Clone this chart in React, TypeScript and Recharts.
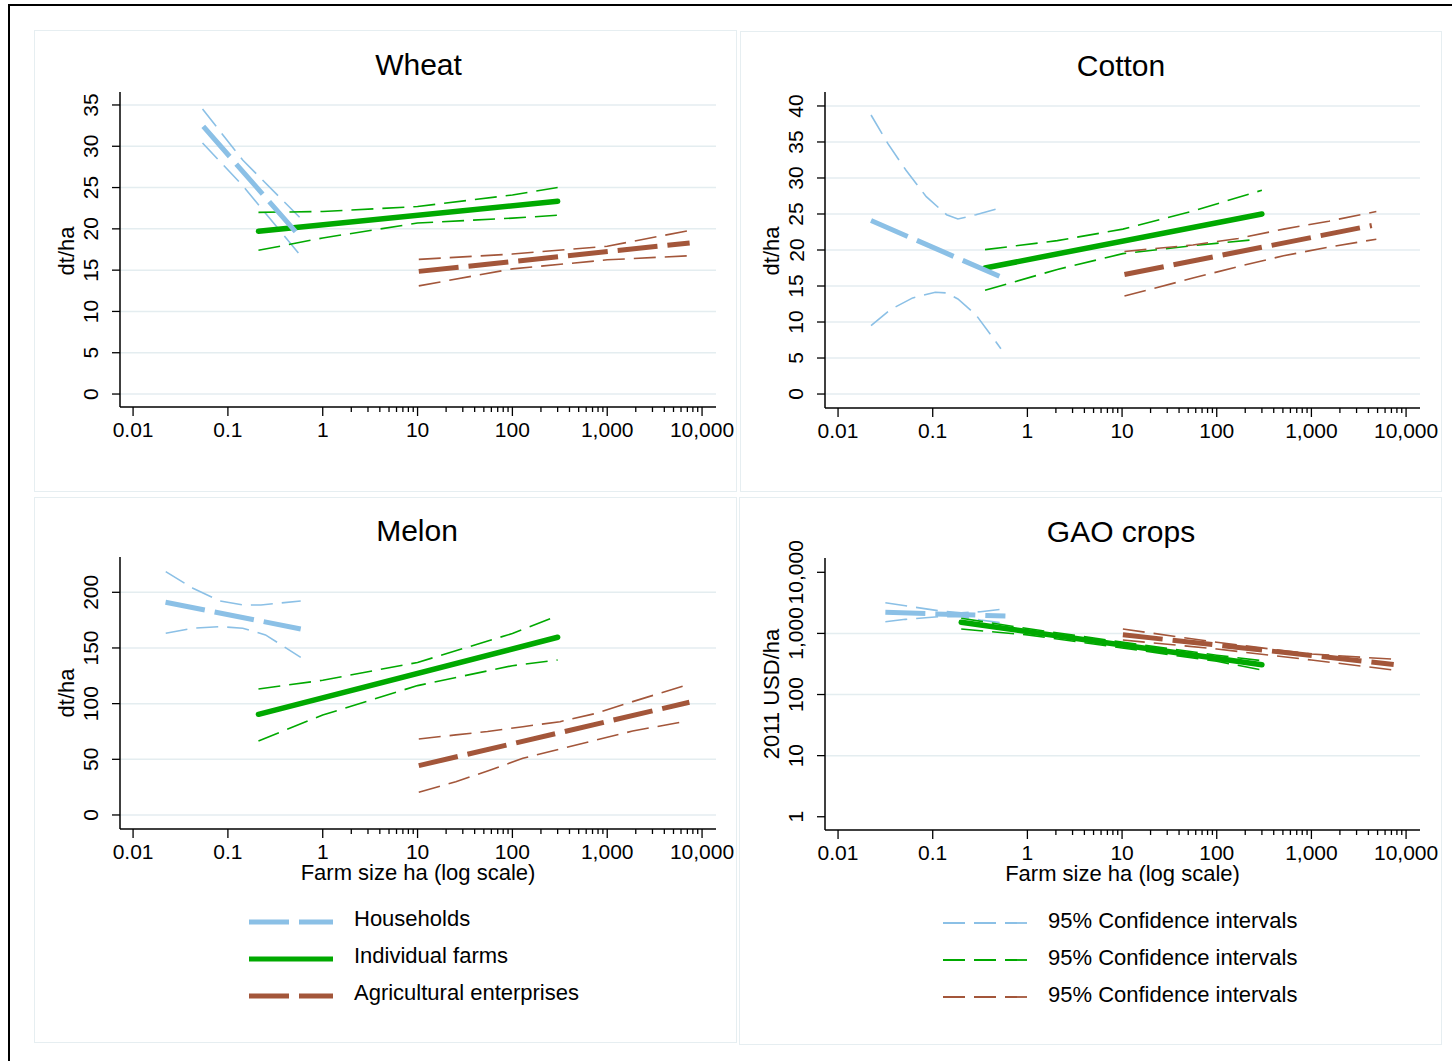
import React from "react";
import { CartesianGrid, Line, LineChart, XAxis, YAxis } from "recharts";

type Pt = [number, number];

// ---- values: [farm size ha, value] ----
// Wheat (dt/ha)
const wheatHouseholds: Pt[] = [[0.055, 32.4], [0.57, 19.1]];
const wheatHouseholdsHi: Pt[] = [[0.054, 34.5], [0.144, 28.3], [0.57, 21.4]];
const wheatHouseholdsLo: Pt[] = [[0.054, 30.4], [0.144, 25.2], [0.57, 16.9]];
const wheatFarms: Pt[] = [[0.21, 19.7], [300, 23.35]];
const wheatFarmsHi: Pt[] = [[0.21, 22.0], [1, 22.1], [10, 22.7], [100, 24.1], [300, 25.0]];
const wheatFarmsLo: Pt[] = [[0.21, 17.4], [1, 18.9], [10, 20.7], [100, 21.3], [300, 21.65]];
const wheatEnterprises: Pt[] = [[10.3, 14.85], [7400, 18.3]];
const wheatEnterprisesHi: Pt[] = [[10.3, 16.3], [100, 16.95], [1000, 17.9], [7400, 19.8]];
const wheatEnterprisesLo: Pt[] = [[10.3, 13.1], [100, 15.15], [1000, 16.25], [7400, 16.75]];

// Cotton (dt/ha)
const cottonHouseholds: Pt[] = [[0.0223, 24.1], [0.525, 16.26]];
const cottonHouseholdsHi: Pt[] = [[0.0223, 38.75], [0.0335, 34.8], [0.052, 31.1], [0.0855, 27.4], [0.14, 24.9], [0.1845, 24.3], [0.286, 24.9], [0.5, 25.8]];
const cottonHouseholdsLo: Pt[] = [[0.0223, 9.5], [0.0355, 11.7], [0.0614, 13.35], [0.1064, 14.13], [0.14, 14.04], [0.1845, 13.2], [0.286, 11.0], [0.525, 6.3]];
const cottonFarms: Pt[] = [[0.357, 17.5], [300, 25.0]];
const cottonFarmsHi: Pt[] = [[0.357, 20.05], [2.07, 21.3], [10.2, 22.9], [56, 25.4], [300, 28.3]];
const cottonFarmsLo: Pt[] = [[0.357, 14.4], [2.07, 17.3], [10.2, 19.5], [56, 20.6], [235, 21.4]];
const cottonEnterprises: Pt[] = [[10.6, 16.6], [4345, 23.4]];
const cottonEnterprisesHi: Pt[] = [[10.6, 19.8], [56, 20.7], [169, 21.6], [508, 22.9], [1527, 24.0], [4850, 25.35]];
const cottonEnterprisesLo: Pt[] = [[10.6, 13.6], [56, 16.1], [169, 17.7], [508, 19.2], [1527, 20.4], [4850, 21.5]];

// Melon (dt/ha)
const melonHouseholds: Pt[] = [[0.022, 191.0], [0.586, 167.1]];
const melonHouseholdsHi: Pt[] = [[0.0221, 218.6], [0.0428, 203.6], [0.0828, 192.2], [0.1435, 188.6], [0.223, 188.6], [0.586, 192.2]];
const melonHouseholdsLo: Pt[] = [[0.0221, 163.2], [0.0428, 167.7], [0.0828, 169.2], [0.1435, 167.7], [0.249, 161.7], [0.586, 141.6]];
const melonFarms: Pt[] = [[0.21, 90.4], [300, 159.6]];
const melonFarmsHi: Pt[] = [[0.21, 113.2], [1, 121], [10, 137], [100, 163], [300, 179]];
const melonFarmsLo: Pt[] = [[0.21, 66.5], [1, 89.8], [10, 116.2], [100, 134.1], [300, 139.2]];
const melonEnterprises: Pt[] = [[10.3, 44.3], [7350, 101.2]];
const melonEnterprisesHi: Pt[] = [[10.3, 68.3], [25.3, 71.9], [54.7, 74.9], [129, 79.3], [318, 83.8], [767, 91.3], [1854, 101.8], [6950, 116.8]];
const melonEnterprisesLo: Pt[] = [[10.3, 20.4], [25.3, 29.9], [54.7, 39.5], [129, 50.9], [318, 59.3], [767, 67.4], [1854, 75.4], [6950, 84.4]];

// GAO crops (2011 USD/ha)
const gaoHouseholds: Pt[] = [[0.0316, 2210], [0.586, 1925]];
const gaoHouseholdsHi: Pt[] = [[0.0316, 3175], [0.0515, 2830], [0.116, 2345], [0.2, 2180], [0.32, 2263], [0.52, 2477]];
const gaoHouseholdsLo: Pt[] = [[0.0316, 1550], [0.0515, 1700], [0.116, 1875], [0.2, 1880], [0.32, 1655], [0.52, 1496]];
const gaoFarms: Pt[] = [[0.2, 1520], [300, 306]];
const gaoFarmsHi: Pt[] = [[0.2, 1770], [1, 1200], [10, 720], [100, 440], [300, 358]];
const gaoFarmsLo: Pt[] = [[0.2, 1180], [1, 945], [10, 578], [100, 350], [300, 252]];
const gaoEnterprises: Pt[] = [[10.2, 950], [7400, 310]];
const gaoEnterprisesHi: Pt[] = [[10.2, 1180], [100, 715], [1000, 460], [7400, 378]];
const gaoEnterprisesLo: Pt[] = [[10.2, 780], [100, 556], [1000, 367], [7400, 252]];

// ---- axes ----
const X_MAJOR = [0.01, 0.1, 1, 10, 100, 1000, 10000];
const X_MINOR = [2, 3, 4, 5, 6, 7, 8, 9, 20, 30, 40, 50, 60, 70, 80, 90, 200, 300, 400, 500, 600, 700, 800, 900, 2000, 3000, 4000, 5000, 6000, 7000, 8000, 9000];
const WHEAT_TICKS = [0, 5, 10, 15, 20, 25, 30, 35];
const COTTON_TICKS = [0, 5, 10, 15, 20, 25, 30, 35, 40];
const MELON_TICKS = [0, 50, 100, 150, 200];
const GAO_TICKS = [1, 10, 100, 1000, 10000];
const GAO_GRID = [10, 100, 1000];

const mainLegend = ["Households", "Individual farms", "Agricultural enterprises"];
const ciLegend = ["95% Confidence intervals", "95% Confidence intervals", "95% Confidence intervals"];

const BLUE = "#8bc0e6";
const GREEN = "#00a900";
const BROWN = "#a3563a";
const FONT = "'Liberation Sans', Arial, Helvetica, sans-serif";
const XMIN = 0.00728;
const XMAX = 14030;

const toPts = (p: Pt[]) => p.map(([x, y]) => ({ x, y }));

const fmt = (v: number) => (v < 1 ? String(v) : v.toLocaleString("en-US"));

function XTick(props: any) {
  const { x, y, payload } = props;
  const major = X_MAJOR.includes(payload.value);
  return (
    <g>
      <line x1={x} x2={x} y1={y} y2={y + (major ? 9 : 5)} stroke="#000" strokeWidth={1.3} />
      {major && (
        <text x={x} y={y + 30} textAnchor="middle" fontSize={21} fontFamily={FONT} fill="#000">
          {fmt(payload.value)}
        </text>
      )}
    </g>
  );
}

function YTick(props: any) {
  const { x, y, payload } = props;
  const bx = x - 21.5;
  return (
    <g>
      <line x1={x - 8} x2={x} y1={y} y2={y} stroke="#000" strokeWidth={1.3} />
      <text x={bx} y={y} transform={`rotate(-90, ${bx}, ${y})`} textAnchor="middle" fontSize={21} fontFamily={FONT} fill="#000">
        {fmt(payload.value)}
      </text>
    </g>
  );
}

const mainStyle = {
  hh: { stroke: BLUE, strokeWidth: 5, strokeDasharray: "40 10" },
  ind: { stroke: GREEN, strokeWidth: 5.5, strokeLinecap: "round" as const },
  ent: { stroke: BROWN, strokeWidth: 5, strokeDasharray: "40 10" },
};
const ciStyle = (c: string) => ({ stroke: c, strokeWidth: 1.6, strokeDasharray: "22 9" });

function series(hh: Pt[], hhHi: Pt[], hhLo: Pt[], ind: Pt[], indHi: Pt[], indLo: Pt[], ent: Pt[], entHi: Pt[], entLo: Pt[]) {
  return [
    { id: "hhHi", data: hhHi, style: ciStyle(BLUE) },
    { id: "hhLo", data: hhLo, style: ciStyle(BLUE) },
    { id: "indHi", data: indHi, style: ciStyle(GREEN) },
    { id: "indLo", data: indLo, style: ciStyle(GREEN) },
    { id: "entHi", data: entHi, style: ciStyle(BROWN) },
    { id: "entLo", data: entLo, style: ciStyle(BROWN) },
    { id: "ind", data: ind, style: mainStyle.ind },
    { id: "ent", data: ent, style: mainStyle.ent },
    { id: "hh", data: hh, style: mainStyle.hh },
  ];
}

const panels = [
  {
    title: "Wheat", left: 120, top: 92, width: 596, height: 315,
    yScale: "linear", yDomain: [-1.57, 36.57], yTicks: WHEAT_TICKS, grid: WHEAT_TICKS,
    yLabel: "dt/ha", titleX: 418.5, titleY: 65, yLabelX: 67, yLabelY: 251, xLabel: false,
    lines: series(wheatHouseholds, wheatHouseholdsHi, wheatHouseholdsLo, wheatFarms, wheatFarmsHi, wheatFarmsLo, wheatEnterprises, wheatEnterprisesHi, wheatEnterprisesLo),
  },
  {
    title: "Cotton", left: 825, top: 92, width: 595, height: 316,
    yScale: "linear", yDomain: [-1.94, 41.94], yTicks: COTTON_TICKS, grid: COTTON_TICKS,
    yLabel: "dt/ha", titleX: 1121, titleY: 66, yLabelX: 772, yLabelY: 251, xLabel: false,
    lines: series(cottonHouseholds, cottonHouseholdsHi, cottonHouseholdsLo, cottonFarms, cottonFarmsHi, cottonFarmsLo, cottonEnterprises, cottonEnterprisesHi, cottonEnterprisesLo),
  },
  {
    title: "Melon", left: 120, top: 557, width: 596, height: 272,
    yScale: "linear", yDomain: [-12.6, 231.7], yTicks: MELON_TICKS, grid: MELON_TICKS,
    yLabel: "dt/ha", titleX: 417, titleY: 530.5, yLabelX: 67, yLabelY: 693, xLabel: true,
    lines: series(melonHouseholds, melonHouseholdsHi, melonHouseholdsLo, melonFarms, melonFarmsHi, melonFarmsLo, melonEnterprises, melonEnterprisesHi, melonEnterprisesLo),
  },
  {
    title: "GAO crops", left: 825, top: 558, width: 595, height: 272,
    yScale: "log", yDomain: [0.607, 17140], yTicks: GAO_TICKS, grid: GAO_GRID,
    yLabel: "2011 USD/ha", titleX: 1121, titleY: 531.5, yLabelX: 772, yLabelY: 694, xLabel: true,
    lines: series(gaoHouseholds, gaoHouseholdsHi, gaoHouseholdsLo, gaoFarms, gaoFarmsHi, gaoFarmsLo, gaoEnterprises, gaoEnterprisesHi, gaoEnterprisesLo),
  },
];

const YW = 60;
const XH = 40;
const RM = 34;
const TM = 40;

function Text({ x, y, size, rotate, children }: any) {
  return (
    <div
      style={{
        position: "absolute", left: x, top: y, fontSize: size, lineHeight: 0.8, whiteSpace: "nowrap",
        transform: `translate(-50%, -50%)${rotate ? " rotate(-90deg)" : ""}`, color: "#000",
      }}
    >
      {children}
    </div>
  );
}

function Panel({ p }: any) {
  return (
    <>
      <div style={{ position: "absolute", left: p.left - YW, top: p.top - TM }}>
        <LineChart width={p.width + YW + RM} height={p.height + XH + TM} margin={{ top: TM, right: RM, bottom: 0, left: 0 }}>
          <CartesianGrid vertical={false} horizontalValues={p.grid} stroke="#e4edf0" strokeWidth={1.5} />
          <XAxis
            type="number" dataKey="x" scale="log" domain={[XMIN, XMAX]} allowDataOverflow
            ticks={[...X_MAJOR, ...X_MINOR]} interval={0} tick={(t: any) => <XTick {...t} />}
            tickLine={false} tickSize={0} tickMargin={0} height={XH}
            axisLine={{ stroke: "#000", strokeWidth: 1.5 }}
          />
          <YAxis
            type="number" dataKey="y" scale={p.yScale} domain={p.yDomain} allowDataOverflow
            ticks={p.yTicks} interval={0} tick={(t: any) => <YTick {...t} />}
            tickLine={false} tickSize={0} tickMargin={0} width={YW}
            axisLine={{ stroke: "#000", strokeWidth: 1.5 }}
          />
          {p.lines.map((s: any) => (
            <Line key={s.id} data={toPts(s.data)} dataKey="y" type="linear" dot={false} activeDot={false} isAnimationActive={false} {...s.style} />
          ))}
        </LineChart>
      </div>
      <Text x={p.titleX} y={p.titleY} size={30}>{p.title}</Text>
      <Text x={p.yLabelX} y={p.yLabelY} size={22} rotate>{p.yLabel}</Text>
      {p.xLabel && <Text x={p.left + p.width / 2} y={p.top + p.height + 44} size={22}>Farm size ha (log scale)</Text>}
    </>
  );
}

const boxes = [
  { left: 34, top: 30, width: 703, height: 462 },
  { left: 740, top: 31, width: 702, height: 461 },
  { left: 34, top: 497, width: 703, height: 546 },
  { left: 739, top: 497, width: 703, height: 548 },
];

export default function App() {
  const mainSamples = [mainStyle.hh, mainStyle.ind, mainStyle.ent];
  const ciColors = [BLUE, GREEN, BROWN];
  return (
    <div style={{ position: "absolute", left: 0, top: 0, width: 1452, height: 1061, overflow: "hidden", background: "#fff", fontFamily: FONT }}>
      <div style={{ position: "absolute", left: 8, top: 4, width: 1600, height: 1200, borderTop: "2px solid #000", borderLeft: "2px solid #000" }} />
      {boxes.map((b, i) => (
        <div key={i} style={{ position: "absolute", ...b, border: "1px solid #e6eef1", boxSizing: "border-box" }} />
      ))}
      {panels.map((p) => (
        <Panel key={p.title} p={p} />
      ))}
      {mainLegend.map((name, i) => (
        <React.Fragment key={"m" + i}>
          <svg style={{ position: "absolute", left: 249, top: 921.5 + i * 37 - 5 }} width={84} height={10}>
            <line x1={0} x2={84} y1={5} y2={5} stroke={mainSamples[i].stroke} strokeWidth={5} strokeDasharray={i === 1 ? undefined : "40 10"} />
          </svg>
          <div style={{ position: "absolute", left: 354, top: 919 + i * 37, transform: "translateY(-50%)", fontSize: 22, lineHeight: 1, whiteSpace: "nowrap" }}>{name}</div>
        </React.Fragment>
      ))}
      {ciLegend.map((name, i) => (
        <React.Fragment key={"c" + i}>
          <svg style={{ position: "absolute", left: 943, top: 922.5 + i * 37 - 5 }} width={84} height={10}>
            <line x1={0} x2={84} y1={5} y2={5} stroke={ciColors[i]} strokeWidth={1.8} strokeDasharray="22 9" />
          </svg>
          <div style={{ position: "absolute", left: 1048, top: 921 + i * 37, transform: "translateY(-50%)", fontSize: 22, lineHeight: 1, whiteSpace: "nowrap" }}>{name}</div>
        </React.Fragment>
      ))}
    </div>
  );
}
